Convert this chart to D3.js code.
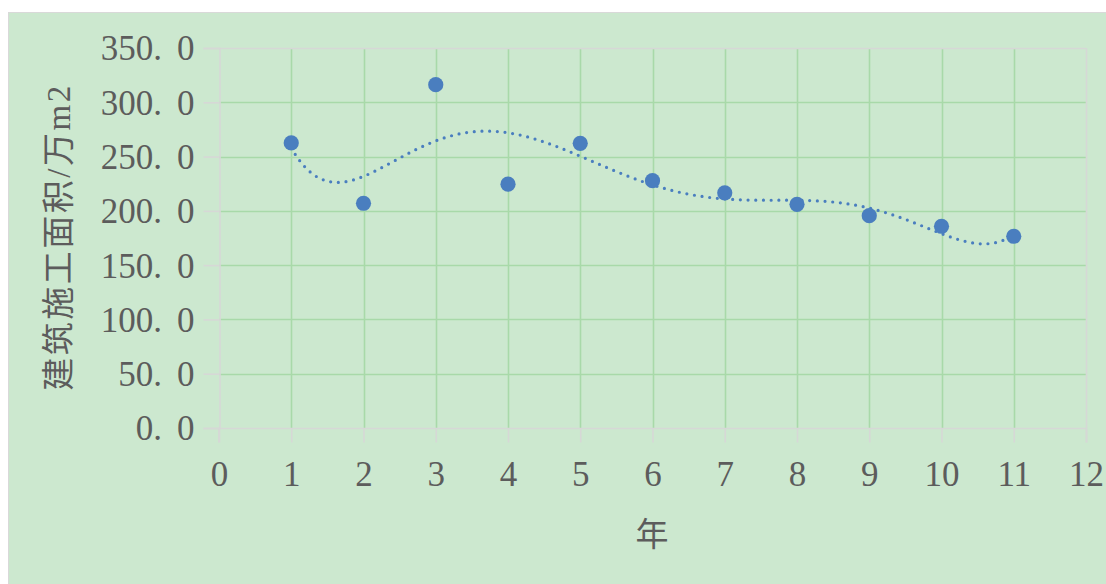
<!DOCTYPE html>
<html>
<head>
<meta charset="utf-8">
<script src="https://cdn.jsdelivr.net/npm/d3@7"></script>
<style>
  html, body { margin: 0; padding: 0; background: #ffffff; }
  svg { display: block; }
</style>
</head>
<body>
<svg id="chart" width="1106" height="584"></svg>
<script>
// Years and floor area under construction (10k m2)
const years = [1, 2, 3, 4, 5, 6, 7, 8, 9, 10, 11];
const areaValues = [262.6, 207.0, 316.2, 224.6, 262.2, 227.8, 216.6, 206.0, 195.6, 185.8, 176.6];
const xTickValues = [0, 1, 2, 3, 4, 5, 6, 7, 8, 9, 10, 11, 12];
const yTickValues = [0, 50, 100, 150, 200, 250, 300, 350];
const trendOrder = 6;
const xTitle = "年";
const yTitle = "建筑施工面积/万m2";

const svg = d3.select("#chart");
const W = 1106, H = 584;
const plot = { left: 219, right: 1086, top: 48, bottom: 428 };

const BG = "#cce8cf";
const GRID = "#a8d9a9";
const AXIS = "#d6d8d6";
const TEXT = "#5c5c5c";
const MARK = "#4a7ebf";
const FONT = "'Liberation Serif', 'Noto Sans CJK SC', serif";

// chart background
svg.append("rect").attr("x", 8.5).attr("y", 12.5)
  .attr("width", W).attr("height", H)
  .attr("fill", BG).attr("stroke", "#d9d9d9").attr("stroke-width", 1);

const x = d3.scaleLinear().domain([0, 12]).range([plot.left, plot.right]);
const y = d3.scaleLinear().domain([0, 350]).range([plot.bottom, plot.top]);

// inner gridlines
const g = svg.append("g");
g.selectAll("line.hgrid").data(yTickValues.filter(v => v > 0 && v < 350)).join("line")
  .attr("x1", plot.left).attr("x2", plot.right)
  .attr("y1", d => Math.round(y(d)) + 0.5).attr("y2", d => Math.round(y(d)) + 0.5)
  .attr("stroke", GRID).attr("stroke-width", 1.6);
g.selectAll("line.vgrid").data(xTickValues.filter(v => v > 0 && v < 12)).join("line")
  .attr("y1", plot.top).attr("y2", plot.bottom)
  .attr("x1", d => Math.round(x(d)) + 0.5).attr("x2", d => Math.round(x(d)) + 0.5)
  .attr("stroke", GRID).attr("stroke-width", 1.6);

// plot frame (top/right edges)
g.append("line").attr("x1", plot.left).attr("x2", plot.right)
  .attr("y1", plot.top + 0.5).attr("y2", plot.top + 0.5)
  .attr("stroke", AXIS).attr("stroke-width", 1.6);
g.append("line").attr("x1", plot.right + 0.5).attr("x2", plot.right + 0.5)
  .attr("y1", plot.top).attr("y2", plot.bottom)
  .attr("stroke", AXIS).attr("stroke-width", 1.6);

// axes
const fmtY = d3.format(".1f");
const xAxis = d3.axisBottom(x).tickValues(xTickValues).tickSize(14).tickPadding(19)
  .tickFormat(d3.format("d"));
const yAxis = d3.axisLeft(y).tickValues(yTickValues).tickSize(16).tickPadding(10)
  .tickFormat(fmtY);

const gx = svg.append("g").attr("transform", `translate(0,${plot.bottom + 0.5})`).call(xAxis);
const gy = svg.append("g").attr("transform", `translate(${plot.left + 0.5},0)`).call(yAxis);

[gx, gy].forEach(ax => {
  ax.select(".domain").attr("stroke", AXIS).attr("stroke-width", 1.6);
  ax.selectAll(".tick line").attr("stroke", AXIS).attr("stroke-width", 1.6);
  ax.selectAll(".tick text").attr("fill", TEXT).style("font-family", FONT)
    .style("font-size", "35px");
});
gx.selectAll(".tick text").attr("dy", "0.71em");
gx.select(".domain").attr("d", `M${plot.left},14V0H${plot.right + 0.5}V14`);

// y labels: the decimal point is set wide, so split the text around it
gy.selectAll(".tick text").each(function (d) {
  const s = fmtY(d);
  const [ip, fp] = s.split(".");
  const t = d3.select(this).text(null).attr("dy", "0.34em").attr("x", -25);
  t.append("tspan").text(ip + ".");
  t.append("tspan").attr("dx", 15).text(fp);
});

// polynomial least-squares trendline
function polyFit(xs, ys, n) {
  const m = n + 1;
  const A = Array.from({ length: m }, () => new Array(m + 1).fill(0));
  for (let k = 0; k < xs.length; k++) {
    const p = [];
    for (let i = 0; i < m; i++) p.push(Math.pow(xs[k], i));
    for (let i = 0; i < m; i++) {
      for (let j = 0; j < m; j++) A[i][j] += p[i] * p[j];
      A[i][m] += p[i] * ys[k];
    }
  }
  for (let c = 0; c < m; c++) {
    let piv = c;
    for (let r = c + 1; r < m; r++) if (Math.abs(A[r][c]) > Math.abs(A[piv][c])) piv = r;
    [A[c], A[piv]] = [A[piv], A[c]];
    for (let r = 0; r < m; r++) {
      if (r === c) continue;
      const f = A[r][c] / A[c][c];
      for (let j = c; j <= m; j++) A[r][j] -= f * A[c][j];
    }
  }
  return A.map((row, i) => row[m] / row[i]);
}
const coef = polyFit(years, areaValues, trendOrder);
const evalPoly = t => coef.reduce((s, c, i) => s + c * Math.pow(t, i), 0);
const trendPts = d3.range(years[0], years[years.length - 1] + 0.0001, 0.05)
  .map(t => [t, evalPoly(t)]);

svg.append("path").datum(trendPts)
  .attr("d", d3.line().x(d => x(d[0])).y(d => y(d[1])))
  .attr("fill", "none").attr("stroke", MARK).attr("stroke-width", 3.2)
  .attr("stroke-linecap", "round").attr("stroke-dasharray", "0 7.7");

// data points
svg.append("g").selectAll("circle").data(years).join("circle")
  .attr("cx", (d) => x(d)).attr("cy", (d, i) => y(areaValues[i]))
  .attr("r", 7.6).attr("fill", MARK);

// axis titles
svg.append("text").attr("x", 652).attr("y", 546).attr("text-anchor", "middle")
  .attr("fill", TEXT).style("font-family", FONT).style("font-size", "33px").text(xTitle);
svg.append("text").attr("transform", "translate(70,237) rotate(-90)")
  .attr("text-anchor", "middle").attr("fill", TEXT)
  .style("font-family", FONT).style("font-size", "33px")
  .style("letter-spacing", "2.5px").text(yTitle);
</script>
</body>
</html>
